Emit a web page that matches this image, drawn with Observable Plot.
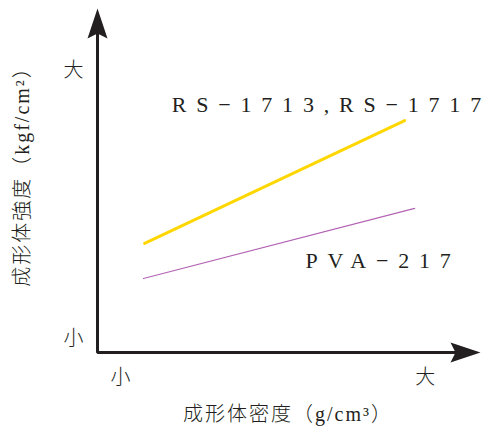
<!DOCTYPE html>
<html><head><meta charset="utf-8">
<script src="https://cdn.jsdelivr.net/npm/d3@7"></script>
<script src="https://cdn.jsdelivr.net/npm/@observablehq/plot@0.6"></script>
<style>
html,body{margin:0;padding:0;background:#fff;}
</style>
</head><body>
<div id="chart"></div>
<script>
// Relative (qualitative) scale 0..100 on both axes
const xDomain = [0, 100];
const yDomain = [0, 100];

// Series: 成形体密度 (x) vs 成形体強度 (y), qualitative
const rsX = [12.3, 80.2];
const rsY = [31.7, 67.4];
const pvaX = [12.0, 82.8];
const pvaY = [21.5, 41.9];

const seriesNames = ["RS−1713,RS−1717", "PVA−217"];
const seriesLabelX = [19.4, 54.3];
const seriesLabelY = [72.1, 26.5];

const xTickValues = [6, 85.6];
const xTickLabels = ["小", "大"];
const yTickValues = [4, 82];
const yTickLabels = ["小", "大"];

const xLabel = "成形体密度（g/cm³）";
const yLabel = "成形体強度（kgf/cm²）";

const rsData = rsX.map((x, i) => ({x, y: rsY[i]}));
const pvaData = pvaX.map((x, i) => ({x, y: pvaY[i]}));
const labelData = seriesNames.map((name, i) => ({name, x: seriesLabelX[i], y: seriesLabelY[i]}));

const axisPath = [
  {x: xDomain[0], y: yDomain[1] * 0.96},
  {x: xDomain[0], y: yDomain[0]},
  {x: xDomain[1] * 0.96, y: yDomain[0]}
];

const arrowUp = {draw(ctx) { ctx.moveTo(0, 0); ctx.lineTo(-10, 30); ctx.lineTo(0, 25); ctx.lineTo(10, 30); ctx.closePath(); }};
const arrowRight = {draw(ctx) { ctx.moveTo(0, 0); ctx.lineTo(-30, -10); ctx.lineTo(-25, 0); ctx.lineTo(-30, 10); ctx.closePath(); }};

const FONT = "'Liberation Serif', 'Noto Sans CJK JP', serif";
const CJK_FONT = "'Noto Sans CJK JP', sans-serif";
const INK = "#231f20";

const chart = Plot.plot({
  width: 490,
  height: 439,
  marginLeft: 97,
  marginRight: 10,
  marginTop: 8,
  marginBottom: 87,
  x: {domain: xDomain, axis: null},
  y: {domain: yDomain, axis: null},
  style: {background: "#fff", fontFamily: FONT, overflow: "visible"},
  marks: [
    Plot.line(axisPath, {x: "x", y: "y", stroke: INK, strokeWidth: 3, strokeLinejoin: "miter"}),
    Plot.dot([{x: xDomain[0], y: yDomain[1]}], {x: "x", y: "y", symbol: arrowUp, fill: INK, stroke: "none"}),
    Plot.dot([{x: xDomain[1], y: yDomain[0]}], {x: "x", y: "y", symbol: arrowRight, fill: INK, stroke: "none"}),
    Plot.line(rsData, {x: "x", y: "y", stroke: "#ffd700", strokeWidth: 3}),
    Plot.line(pvaData, {x: "x", y: "y", stroke: "#b463b4", strokeWidth: 1.2}),
    Plot.text(labelData, {x: "x", y: "y", text: "name", textAnchor: "start", fontSize: 22, fill: INK, fontFamily: FONT}),
    Plot.text(xTickValues, {x: d => d, frameAnchor: "bottom", textAnchor: "middle", dy: 31, text: (d, i) => xTickLabels[i], fontSize: 20, fill: INK, fontFamily: FONT}),
    Plot.text(yTickValues, {y: d => d, frameAnchor: "left", textAnchor: "middle", dx: -24, text: (d, i) => yTickLabels[i], fontSize: 20, fill: INK, fontFamily: FONT}),
    Plot.text([xLabel], {text: d => d, frameAnchor: "bottom", textAnchor: "middle", dx: -1, dy: 68, fontSize: 20, fill: INK, fontFamily: FONT}),
    Plot.text([yLabel], {text: d => d, frameAnchor: "left", textAnchor: "middle", dx: -75, dy: -9, rotate: -90, fontSize: 20, fill: INK, fontFamily: FONT})
  ]
});

const svg = d3.select(chart);
// Wide letter spacing for series labels, none after the last glyph
svg.selectAll("text")
  .filter(function() { return seriesNames.includes(this.textContent); })
  .each(function() {
    const t = this.textContent;
    const sel = d3.select(this).text(null);
    sel.append("tspan").attr("letter-spacing", 9.8).text(t.slice(0, -1));
    sel.append("tspan").attr("letter-spacing", 0).text(t.slice(-1));
  });

// Render CJK runs in a light sans, Latin runs in serif
const cjkRe = /([\u3000-\u9fff\uff00-\uffef]+)/;
svg.selectAll("text").each(function() {
  const t = this.textContent;
  if (!cjkRe.test(t)) return;
  const parts = t.split(cjkRe).filter(s => s.length);
  const sel = d3.select(this);
  const spacing = (t === xLabel || t === yLabel) ? 2 : 0;
  sel.text(null);
  parts.forEach(p => {
    const isCjk = cjkRe.test(p);
    sel.append("tspan")
      .attr("font-family", isCjk ? CJK_FONT : FONT)
      .attr("font-weight", isCjk ? 300 : 400)
      .attr("letter-spacing", spacing)
      .text(p);
  });
});

document.getElementById("chart").appendChild(chart);
</script>
</body></html>
